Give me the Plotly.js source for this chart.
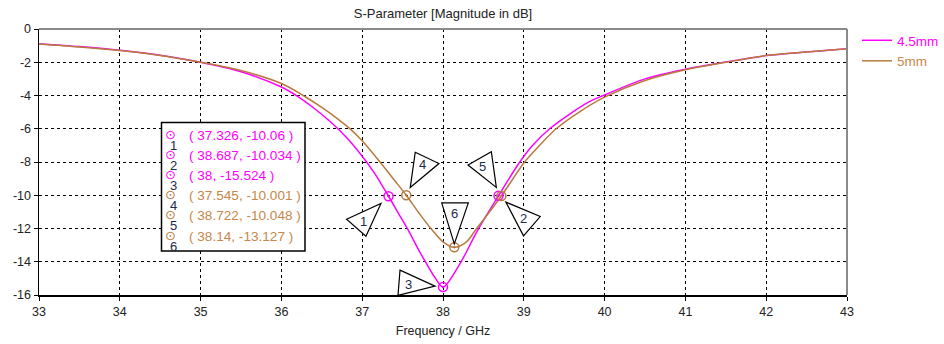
<!DOCTYPE html>
<html><head><meta charset="utf-8">
<script src="https://cdn.plot.ly/plotly-3.0.1.min.js"></script>
<style>body{margin:0;background:#fff}#chart{width:944px;height:344px}</style>
</head><body><div id="chart"></div>
<script>
// ---- data ----
const freq45 = [33, 33.5, 34, 34.5, 35, 35.5, 36, 36.2, 36.4, 36.6, 36.8, 37.0, 37.15, 37.326, 37.45, 37.57, 37.7, 37.8, 37.9, 38, 38.2, 38.43, 38.687, 38.95, 39.1, 39.32, 39.8, 40, 40.5, 41, 41.5, 42, 42.5, 43];
const s45 = [-0.88, -1.06, -1.28, -1.58, -2.0, -2.57, -3.49, -4.05, -4.75, -5.55, -6.5, -7.65, -8.65, -10.06, -11.1, -12.1, -13.3, -14.15, -14.95, -15.524, -14.2, -12.1, -10.034, -8.0, -7.05, -6.0, -4.4, -3.97, -3.0, -2.42, -1.98, -1.6, -1.38, -1.19];
const freq5 = [33, 33.5, 34, 34.5, 35, 35.5, 36, 36.27, 36.5, 36.7, 36.86, 37.0, 37.22, 37.4, 37.545, 37.7, 37.85, 38.0, 38.14, 38.28, 38.41, 38.722, 38.86, 39.01, 39.2, 39.4, 39.7, 40, 40.5, 41, 41.5, 42, 42.5, 43];
const s5 = [-0.90, -1.08, -1.30, -1.59, -2.0, -2.5, -3.28, -4.0, -4.72, -5.42, -6.05, -6.72, -8.0, -9.1, -10.0, -11.05, -12.0, -12.8, -13.127, -12.85, -12.05, -10.048, -9.05, -8.0, -6.98, -6.0, -4.95, -4.1, -3.1, -2.45, -2.0, -1.6, -1.38, -1.19];
const markerFreq45 = [37.326, 38.687, 38];
const markerVal45 = [-10.06, -10.034, -15.524];
const markerFreq5 = [37.545, 38.722, 38.14];
const markerVal5 = [-10.001, -10.048, -13.127];
const markerIds = ['1', '2', '3', '4', '5', '6'];
const seriesNames = ['4.5mm', '5mm'];
const xTicks = [33, 34, 35, 36, 37, 38, 39, 40, 41, 42, 43];
const yTicks = [0, -2, -4, -6, -8, -10, -12, -14, -16];

// ---- style ----
const C1 = '#ff00ff', C2 = '#b87a3e', C2T = '#c8874a';
const FONT = 'Liberation Sans, Arial, sans-serif';
// callout triangles relative to marker (px, y downward), label offset
const callouts = [
  {v: [[-42, 23], [-7.6, 7.3], [-22.6, 40]], t: [-25, 25]},
  {v: [[7.4, 6.3], [41.7, 20.7], [25, 40]], t: [25, 23]},
  {v: [[-43, -17], [-8, -1], [-45, 8.3]], t: [-35, -3]},
  {v: [[9, -43], [32.7, -31.7], [4, -7.7]], t: [16, -31]},
  {v: [[-33.3, -31], [-10, -44.3], [-5, -8.7]], t: [-19, -30]},
  {v: [[-12.6, -44.4], [14, -44.4], [0, -3.4]], t: [0, -34]}
];

const allMF = markerFreq45.concat(markerFreq5);
const allMV = markerVal45.concat(markerVal5);
const allColor = [C1, C1, C1, C2, C2, C2];
const allTextColor = [C1, C1, C1, C2T, C2T, C2T];

const traces = [
  {x: freq45, y: s45, type: 'scatter', mode: 'lines', name: '<span style="color:' + C1 + '">' + seriesNames[0] + '</span>',
   line: {color: C1, width: 1.5, shape: 'spline', smoothing: 0.9}},
  {x: freq5, y: s5, type: 'scatter', mode: 'lines', name: '<span style="color:' + C2T + '">' + seriesNames[1] + '</span>',
   line: {color: C2, width: 1.5, shape: 'spline', smoothing: 0.9}},
  {x: markerFreq45, y: markerVal45, type: 'scatter', mode: 'markers', showlegend: false, hoverinfo: 'skip',
   marker: {symbol: 'circle-open-dot', size: 9, color: C1, line: {width: 1.5, color: C1}}},
  {x: markerFreq5, y: markerVal5, type: 'scatter', mode: 'markers', showlegend: false, hoverinfo: 'skip',
   marker: {symbol: 'circle-open-dot', size: 9, color: C2, line: {width: 1.5, color: C2}}}
];

const shapes = [];
const annotations = [];
allMF.forEach((f, i) => {
  const c = callouts[i];
  const p = 'M ' + c.v.map(q => q[0] + ',' + (-q[1])).join(' L ') + ' Z';
  shapes.push({type: 'path', xref: 'x', yref: 'y', xsizemode: 'pixel', ysizemode: 'pixel',
    xanchor: f, yanchor: allMV[i], path: p, line: {color: '#000', width: 1.2}, fillcolor: '#fff', layer: 'above'});
  annotations.push({x: f, y: allMV[i], xref: 'x', yref: 'y', text: markerIds[i], showarrow: false,
    xshift: c.t[0], yshift: -c.t[1], font: {family: FONT, size: 13, color: '#1c2a4a'}});
});

// info box
const PL = 39, PR = 847, PT = 29, PB = 295;
const px = v => (v - PL) / (PR - PL);
const py = v => (PB - v) / (PB - PT);
shapes.push({type: 'rect', xref: 'paper', yref: 'paper', x0: px(161.5), x1: px(305), y0: py(251), y1: py(122.5),
  line: {color: '#000', width: 1.5}, fillcolor: '#fff', layer: 'above'});
allMF.forEach((f, i) => {
  const rowY = 135 + i * 20.2;
  annotations.push({xref: 'paper', yref: 'paper', x: px(186.5), y: py(rowY), xanchor: 'left', yanchor: 'middle', showarrow: false,
    text: '( ' + f + ', ' + allMV[i] + ' )', font: {family: FONT, size: 13.6, color: allTextColor[i]}});
  annotations.push({xref: 'paper', yref: 'paper', x: px(170.5), y: py(rowY - 1), xanchor: 'center', yanchor: 'middle', showarrow: false,
    text: '⊙', font: {family: 'DejaVu Sans', size: 13, color: allColor[i]}});
  annotations.push({xref: 'paper', yref: 'paper', x: px(173), y: py(rowY + 10), xanchor: 'center', yanchor: 'middle', showarrow: false,
    text: markerIds[i], font: {family: FONT, size: 13, color: '#1c2a4a'}});
});
// top/right gray frame
shapes.push({type: 'line', xref: 'paper', yref: 'paper', x0: 0, x1: 1, y0: 1, y1: 1, line: {color: '#8a8a8a', width: 2}});
shapes.push({type: 'line', xref: 'paper', yref: 'paper', x0: 1, x1: 1, y0: 0, y1: 1, line: {color: '#8a8a8a', width: 2}});

const layout = {
  width: 944, height: 344,
  margin: {l: PL, r: 944 - PR, t: PT, b: 344 - PB},
  paper_bgcolor: '#fff', plot_bgcolor: '#fff',
  font: {family: FONT, size: 12, color: '#222'},
  title: {text: 'S-Parameter [Magnitude in dB]', x: 0.5, xref: 'paper', y: 1 - 13 / 344, yanchor: 'middle',
    font: {family: FONT, size: 13, color: '#222'}},
  xaxis: {range: [33, 43], tickvals: xTicks, ticktext: xTicks.map(String), showgrid: true, gridcolor: '#000', griddash: '3px,3px', gridwidth: 1,
    zeroline: false, showline: true, linecolor: '#000', linewidth: 1.5, ticks: 'outside', ticklen: 4, tickcolor: '#000',
    tickfont: {family: FONT, size: 12.5, color: '#222'},
    title: {text: 'Frequency / GHz', font: {family: FONT, size: 12.5, color: '#222'}, standoff: 8}},
  yaxis: {range: [-16, 0], tickvals: yTicks, ticktext: yTicks.map(String), showgrid: true, gridcolor: '#000', griddash: '3px,3px', gridwidth: 1,
    zeroline: false, showline: true, linecolor: '#000', linewidth: 1.5, ticks: 'outside', ticklen: 4, tickcolor: '#000',
    tickfont: {family: FONT, size: 12.5, color: '#222'}},
  legend: {xref: 'container', yref: 'container', x: 857 / 944, xanchor: 'left', y: 1 - 25 / 344, yanchor: 'top',
    bgcolor: 'rgba(0,0,0,0)', font: {family: FONT, size: 13.5}, tracegroupgap: 0},
  shapes: shapes,
  annotations: annotations,
  showlegend: true
};
Plotly.newPlot('chart', traces, layout, {staticPlot: true, displayModeBar: false});
</script>
</body></html>
